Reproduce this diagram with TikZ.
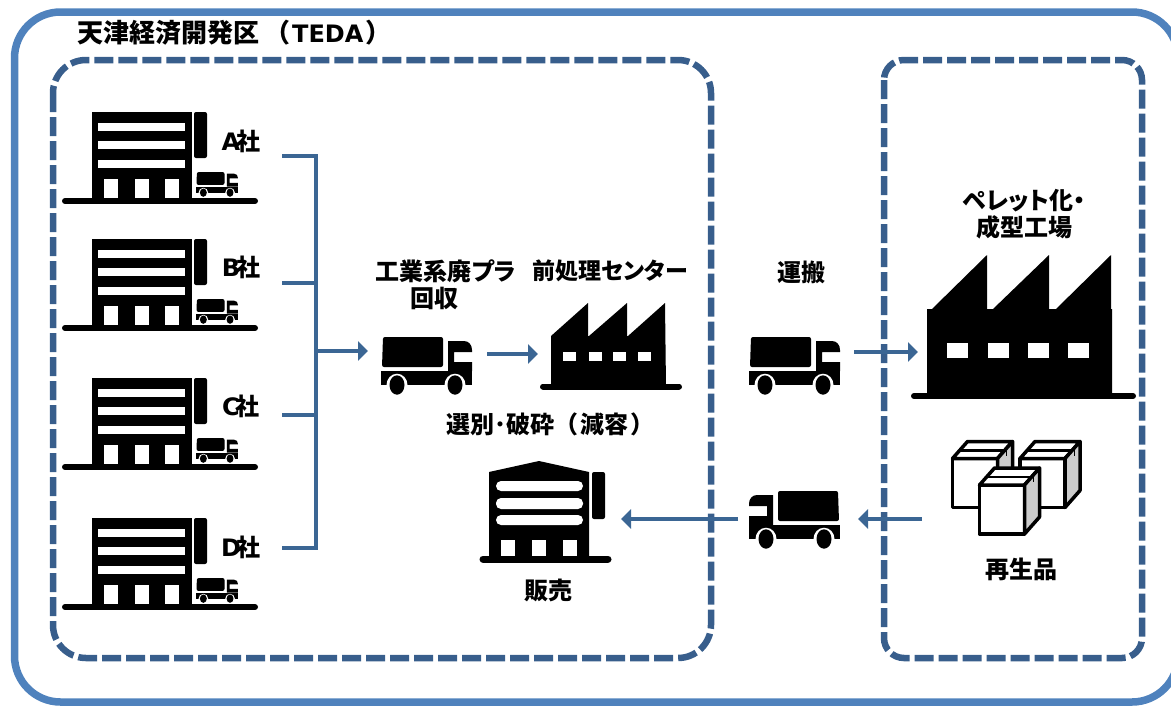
\documentclass[tikz,border=0pt]{standalone}
\usepackage{xcolor}
\usepackage{fontspec}
\setmainfont{Noto Sans CJK JP}[RawFeature=+palt]
\newfontfamily\latinfont{DejaVu Sans}
\usetikzlibrary{arrows.meta}

\definecolor{outercolor}{rgb}{ 0.31,0.51,0.74 }
\definecolor{zonecolor}{rgb}{ 0.22,0.37,0.55 }
\definecolor{flowcolor}{rgb}{ 0.23,0.40,0.58 }
\definecolor{sidecolor}{rgb}{ 0.80,0.80,0.80 }

\tikzset{
  truck/.pic={
    \fill[rounded corners=2pt] (1,30) -- (2,0) -- (62,0) -- (62,30) -- cycle;
    \fill (0,34) rectangle (91,48);
    \fill (67,34) -- (67,4) -- (83,4) .. controls (88,4) and (91,8) .. (91,13) -- (91,15) -- (73,15) -- (73,25) -- (91,25) -- (91,34) -- cycle;
    \fill[white] (16,48) ellipse (10.5 and 11.3);
    \fill[white] (74,48) ellipse (10.5 and 11.3);
    \fill (16,48) ellipse (7.5 and 9.7);
    \fill (74,48) ellipse (7.5 and 9.7);
  },
  office/.pic={
    \fill (0,0) rectangle (100,89);
    \draw[line width=6pt, line cap=round] (-27,89) -- (163,89);
    \fill[white] (6,11) rectangle (93,19);
    \fill[white] (6,29) rectangle (93,37);
    \fill[white] (6,48) rectangle (93,56);
    \fill[white] (12,67) rectangle (26,86);
    \fill[white] (43,67) rectangle (57,86);
    \fill[white] (73,67) rectangle (87,86);
    \fill[rounded corners=2pt] (102,0) rectangle (115,46);
    \pic[xscale=0.46, yscale=0.43] at (104,60) {truck};
  },
  carton/.pic={
    \draw[fill=white, line width=3.5pt, line join=round] (0,0) rectangle (45,49);
    \draw[fill=white, line width=3.5pt, line join=round] (0,0) -- (15,-17) -- (60,-17) -- (45,0) -- cycle;
    \draw[fill=sidecolor, line width=3.5pt, line join=round] (45,0) -- (60,-17) -- (60,32) -- (45,49) -- cycle;
    \draw[line width=2.5pt] (6,-8) -- (52,-8);
    \draw[line width=1pt] (54,-13) -- (54,-3);
  }
}

\begin{document}
\begin{tikzpicture}[x = 1pt, y = -1pt]

  \clip (0,0) rectangle (1171,705);

  % DEF POINTS
  \coordinate (stub_a) at (282,156);
  \coordinate (stub_b) at (282,283);
  \coordinate (stub_c) at (282,415);
  \coordinate (stub_d) at (282,548);
  \coordinate (bus_a) at (316,156);
  \coordinate (bus_b) at (316,283);
  \coordinate (bus_m) at (316,351);
  \coordinate (bus_c) at (316,415);
  \coordinate (bus_d) at (316,548);
  \coordinate (pickup_in) at (368,351);
  \coordinate (pickup_out) at (487,354);
  \coordinate (center_in) at (538,354);
  \coordinate (haul_out) at (854,352);
  \coordinate (plant_in) at (918,352);
  \coordinate (goods_out) at (922,519);
  \coordinate (back_in) at (858,519);
  \coordinate (back_out) at (738,519);
  \coordinate (sales_in) at (621,519);

  % STYLES
  \tikzstyle{outerstyle} = [draw=outercolor, line width=7.5pt, rounded corners=46pt]
  \tikzstyle{zonestyle} = [draw=zonecolor, line width=6.5pt, dash pattern=on 19pt off 5pt]
  \tikzstyle{flowstyle} = [draw=flowcolor, line width=4.5pt]
  \tikzstyle{arrowstyle} = [flowstyle, -{Triangle[length=10pt, width=19pt]}]
  \tikzstyle{labelstyle} = [font=\bfseries\fontsize{24}{27}\selectfont, text=black, inner sep=0pt]

  % FRAMES
  \draw[outerstyle] (14.5,12) rectangle (1178,702);
  \draw[zonestyle, rounded corners=33pt] (53,60) rectangle (711,658);
  \draw[zonestyle, rounded corners=20pt] (884,60) rectangle (1142,658);

  % OFFICES
  \pic at (92,112) {office};
  \pic at (92,239) {office};
  \pic at (92,378) {office};
  \pic at (92,518) {office};

  % CENTER FACTORY
  \fill (551,387) -- (551,336) -- (588,303) -- (588,336) -- (589,336) -- (627,303) -- (627,336) -- (628,336) -- (665,303) -- (666,387) -- cycle;
  \draw[line width=6pt, line cap=round] (543,386.5) -- (679,386.5);
  \fill[white] (563,352) rectangle (576,361);
  \fill[white] (589,352) rectangle (602,361);
  \fill[white] (613,352) rectangle (626,361);
  \fill[white] (638,352) rectangle (651,361);

  % BIG FACTORY
  \fill (927,396) -- (927,309) -- (932,309) -- (987,255) -- (987,309) -- (993,309) -- (1049,255) -- (1049,309) -- (1056,309) -- (1111,255) -- (1111,309) -- (1112,309) -- (1112,396) -- cycle;
  \draw[line width=6pt, line cap=round] (914,396) -- (1133,396);
  \fill[white] (947,343) rectangle (968,358);
  \fill[white] (988,343) rectangle (1009,358);
  \fill[white] (1028,343) rectangle (1049,358);
  \fill[white] (1068,343) rectangle (1089,358);

  % SALES WAREHOUSE
  \fill (489,559) -- (489,472) -- (539,461) -- (589,472) -- (589,559) -- cycle;
  \draw[line width=7pt, line cap=round] (483,559) -- (608,559);
  \fill[white, rounded corners=5pt] (496,481) rectangle (583,491);
  \fill[white, rounded corners=5pt] (496,498) rectangle (583,509);
  \fill[white, rounded corners=5pt] (496,515) rectangle (583,525);
  \fill[white] (501,540) rectangle (515,556);
  \fill[white] (532,540) rectangle (546,556);
  \fill[white] (563,540) rectangle (577,556);
  \fill[rounded corners=2pt] (592,472) rectangle (605,519);

  % TRUCKS
  \pic at (381,337) {truck};
  \pic at (749,337) {truck};
  \pic[xscale=-1] at (840,491) {truck};

  % CARTONS
  \pic at (952.5,458.5) {carton};
  \pic at (1020,458.5) {carton};
  \pic at (979.5,485) {carton};

  % EDGES
  \draw[flowstyle, line join=miter] (stub_a) -- (bus_a) -- (bus_d) -- (stub_d);
  \draw[flowstyle] (stub_b) -- (bus_b);
  \draw[flowstyle] (stub_c) -- (bus_c);
  \draw[arrowstyle] (bus_m) -- (pickup_in);
  \draw[arrowstyle] (pickup_out) -- (center_in);
  \draw[arrowstyle] (haul_out) -- (plant_in);
  \draw[arrowstyle] (goods_out) -- (back_in);
  \draw[arrowstyle] (back_out) -- (sales_in);

  % LABELS
  \node[labelstyle, font=\bfseries\fontsize{26}{27}\selectfont, anchor=west] (label_teda) at (77,33) {天津経済開発区\hspace{17pt}（\hspace{3pt}{\latinfont\fontsize{24}{27}\selectfont TEDA}\hspace{3pt}）};
  \node[labelstyle] (label_a) at (241,141) {{\latinfont A}\kern-4pt 社};
  \node[labelstyle] (label_b) at (241,267) {{\latinfont B}\kern-4pt 社};
  \node[labelstyle] (label_c) at (241,406) {{\latinfont C}\kern-4pt 社};
  \node[labelstyle] (label_d) at (241,547) {{\latinfont D}\kern-4pt 社};
  \node[labelstyle, align=left] (label_pickup) at (446,285) {工業系廃プラ\\\hspace*{35pt}回収};
  \node[labelstyle, font=\bfseries\fontsize{23}{27}\selectfont] (label_center) at (610,271) {前処理センター};
  \node[labelstyle] (label_haul) at (801,272) {運搬};
  \node[labelstyle, align=center] (label_plant) at (1024,214) {ペレット化・\\成型工場};
  \node[labelstyle] (label_sort) at (545,424) {選別･破砕\hspace{11pt}（\hspace{3pt}減容\hspace{3pt}）};
  \node[labelstyle] (label_sales) at (548,590) {販売};
  \node[labelstyle] (label_goods) at (1021,569) {再生品};

\end{tikzpicture}
\end{document}
